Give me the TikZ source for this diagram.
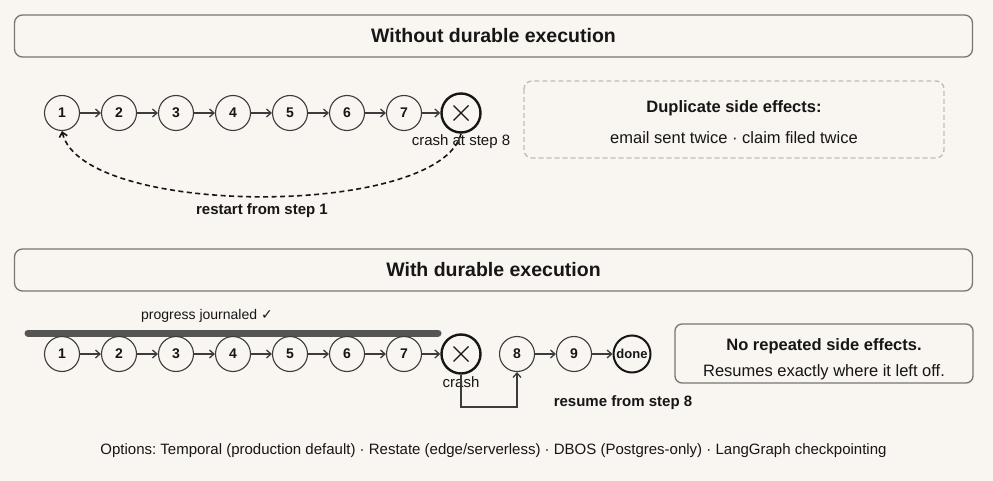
\documentclass[tikz,border=0pt]{standalone}
\usepackage{fontspec}
\setmainfont{Liberation Sans}
\newfontfamily\symbolfont{DejaVu Sans}
\usepackage{xcolor}
\usepackage{tikz}
\usetikzlibrary{positioning,calc,arrows.meta}
\frenchspacing

\definecolor{paper}{RGB}{249,245,240}
\definecolor{ink}{RGB}{22,22,22}
\definecolor{framegray}{RGB}{120,118,115}
\definecolor{dashgray}{RGB}{192,190,186}
\definecolor{wiregray}{RGB}{60,60,60}
\definecolor{bargray}{RGB}{85,85,85}

\begin{document}
\begin{tikzpicture}[
    x=1pt, y=-1pt,
    every node/.style={font=\fontsize{15}{17}\selectfont, text=ink},
    banner/.style={draw=framegray, line width=1.3pt, rounded corners=8pt,
                   minimum width=958pt, minimum height=42pt,
                   font=\fontsize{19.5}{22}\selectfont\bfseries},
    stepnode/.style={circle, draw=wiregray, line width=1.1pt, minimum size=35pt,
                     inner sep=0pt, font=\fontsize{14}{16}\selectfont\bfseries},
    crashnode/.style={circle, draw=ink, line width=2.4pt, minimum size=39pt, inner sep=0pt},
    donenode/.style={circle, draw=ink, line width=2pt, minimum size=37pt,
                     inner sep=0pt, font=\fontsize{13}{15}\selectfont\bfseries},
    flow/.style={-{Straight Barb[length=4.5pt,width=8pt]}, line width=1.3pt, draw=wiregray},
    crossmark/.style={line width=1.2pt, draw=ink},
    note/.style={font=\fontsize{15}{17}\selectfont},
    hint/.style={font=\fontsize{15}{17}\selectfont\bfseries},
    body/.style={font=\fontsize{16.5}{19}\selectfont},
    lead/.style={font=\fontsize{16.5}{19}\selectfont\bfseries},
]

% background and page size
\fill[paper] (0,0) rectangle (993,481);
\useasboundingbox (0,0) rectangle (993,481);

% =====================================================================
% TOP: without durable execution
% =====================================================================
\node[banner] (t1) at (493.5,36) {Without durable execution};

% steps 1..7 and the crash
\node[stepnode] (a1) at (62,113)  {1};
\node[stepnode] (a2) at (119,113) {2};
\node[stepnode] (a3) at (176,113) {3};
\node[stepnode] (a4) at (233,113) {4};
\node[stepnode] (a5) at (290,113) {5};
\node[stepnode] (a6) at (347,113) {6};
\node[stepnode] (a7) at (404,113) {7};
\node[crashnode] (ax) at (461,113) {};
\draw[crossmark] ($(ax)+(-7.5,-7.5)$) -- ($(ax)+(7.5,7.5)$);
\draw[crossmark] ($(ax)+(-7.5,7.5)$) -- ($(ax)+(7.5,-7.5)$);

\draw[flow] (a1) -- (a2);
\draw[flow] (a2) -- (a3);
\draw[flow] (a3) -- (a4);
\draw[flow] (a4) -- (a5);
\draw[flow] (a5) -- (a6);
\draw[flow] (a6) -- (a7);
\draw[flow] (a7) -- (ax);

\node[note] (axl) at (461,142) {crash at step 8};

% dashed restart loop back to step 1
\draw[-{Straight Barb[length=4.5pt,width=8pt]}, line width=1.6pt, ink,
      dash pattern=on 5pt off 3.5pt]
    (ax.south) .. controls (440,218) and (82,218) .. (a1.south);
\node[hint] (rs) at (262,211) {restart from step 1};

% duplicate side effects box
\draw[dashgray, line width=1.4pt, dash pattern=on 5pt off 3pt, rounded corners=8pt]
    (524,81) rectangle (944,158);
\node[lead] (dup) at (734,108) {Duplicate side effects:};
\node[body] (dupx) at (734,138) {email sent twice · claim filed twice};

% =====================================================================
% BOTTOM: with durable execution
% =====================================================================
\node[banner] (t2) at (493.5,270) {With durable execution};

% journal bar over the completed steps
\draw[bargray, line width=7pt, line cap=round] (28,333) -- (438,333);
\node[note] (jr) at (207,316) {\fontsize{14}{16}\selectfont progress journaled {\symbolfont\fontsize{14}{16}\selectfont ✓}};

\node[stepnode] (b1) at (62,354)  {1};
\node[stepnode] (b2) at (119,354) {2};
\node[stepnode] (b3) at (176,354) {3};
\node[stepnode] (b4) at (233,354) {4};
\node[stepnode] (b5) at (290,354) {5};
\node[stepnode] (b6) at (347,354) {6};
\node[stepnode] (b7) at (404,354) {7};
\node[crashnode] (bx) at (461,354) {};
\draw[crossmark] ($(bx)+(-7.5,-7.5)$) -- ($(bx)+(7.5,7.5)$);
\draw[crossmark] ($(bx)+(-7.5,7.5)$) -- ($(bx)+(7.5,-7.5)$);
\node[stepnode] (b8) at (517,354) {8};
\node[stepnode] (b9) at (574,354) {9};
\node[donenode] (bd) at (632,354) {done};

\draw[flow] (b1) -- (b2);
\draw[flow] (b2) -- (b3);
\draw[flow] (b3) -- (b4);
\draw[flow] (b4) -- (b5);
\draw[flow] (b5) -- (b6);
\draw[flow] (b6) -- (b7);
\draw[flow] (b7) -- (bx);
\draw[flow] (b8) -- (b9);
\draw[flow] (b9) -- (bd);

\node[note] (bxl) at (461,382) {crash};

% resume path from the crash up into step 8
\draw[flow] (bx.south) -- (bx.south |- 0,407) -| (b8.south);
\node[hint] (rm) at (623,403) {resume from step 8};

% no repeated side effects box
\draw[framegray, line width=1.3pt, rounded corners=7pt] (675,324) rectangle (973,383);
\node[lead] (nr) at (824,346) {No repeated side effects.};
\node[body] (nrx) at (824,372) {Resumes exactly where it left off.};

% footer
\node[body, font=\fontsize{15}{17}\selectfont] (ft) at (493.5,451) {Options: Temporal (production default) · Restate (edge/serverless) · DBOS (Postgres-only) · LangGraph checkpointing};

\end{tikzpicture}
\end{document}
